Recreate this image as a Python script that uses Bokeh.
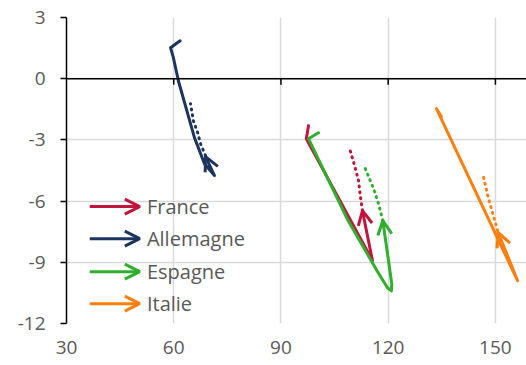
from bokeh.plotting import figure
from bokeh.models import (Range1d, FixedTicker, Arrow, OpenHead, Label, Span, CustomJSTickFormatter)
from bokeh.embed import file_html
from bokeh.resources import INLINE

# ---- data ----
x_ticks = [30, 60, 90, 120, 150]
y_ticks = [-12, -9, -6, -3, 0, 3]

countries = ["France", "Allemagne", "Espagne", "Italie"]
colors = {"France": "#C0163D", "Allemagne": "#1B3560", "Espagne": "#2EAF2E", "Italie": "#FF7F0E"}

france_x = [97.7, 97.1, 115.6, 112.8]
france_y = [-2.30, -2.94, -8.92, -6.47]
france_proj_x = [112.8, 112.2, 111.7, 110.6, 109.4]
france_proj_y = [-6.47, -5.74, -5.00, -4.26, -3.53]

allemagne_x = [61.8, 59.1, 59.9, 61.3, 65.8, 68.6, 71.4, 68.9]
allemagne_y = [1.86, 1.52, 1.03, -0.10, -2.89, -4.17, -4.75, -3.82]
allemagne_proj_x = [68.9, 67.5, 66.7, 65.5, 64.7]
allemagne_proj_y = [-3.77, -3.19, -2.65, -2.06, -1.23]

espagne_x = [100.5, 97.7, 108.6, 117.0, 119.8, 120.9, 121.0, 118.5]
espagne_y = [-2.65, -2.94, -6.90, -9.45, -10.25, -10.40, -10.05, -6.96]
espagne_proj_x = [118.5, 117.3, 115.8, 113.6]
espagne_proj_y = [-6.96, -6.13, -5.34, -4.41]

italie_x = [134.9, 133.5, 156.2, 150.8]
italie_y = [-1.86, -1.47, -9.90, -7.55]
italie_proj_x = [150.6, 148.0, 146.4]
italie_proj_y = [-7.45, -5.83, -4.61]

series = {
    "France": (france_x, france_y, france_proj_x, france_proj_y),
    "Allemagne": (allemagne_x, allemagne_y, allemagne_proj_x, allemagne_proj_y),
    "Espagne": (espagne_x, espagne_y, espagne_proj_x, espagne_proj_y),
    "Italie": (italie_x, italie_y, italie_proj_x, italie_proj_y),
}

FONT = "Open Sans"
TXT = "#595959"
GRID = "#D9D9D9"

p = figure(width=526, height=365, output_backend="svg", toolbar_location=None,
           x_range=Range1d(30, 158.7), y_range=Range1d(-12, 3),
           min_border_left=66, min_border_right=0, min_border_top=17, min_border_bottom=42)
p.outline_line_color = None
p.background_fill_color = "white"

fmt = CustomJSTickFormatter(code="return tick.toString();")

# grids
p.xgrid.ticker = FixedTicker(ticks=x_ticks)
p.ygrid.ticker = FixedTicker(ticks=y_ticks)
p.xgrid.grid_line_color = GRID
p.ygrid.grid_line_color = GRID
p.xgrid.grid_line_width = 1.5
p.ygrid.grid_line_width = 1.5

# y axis
p.yaxis.ticker = FixedTicker(ticks=y_ticks)
p.yaxis.formatter = fmt
p.yaxis.axis_line_color = "black"
p.yaxis.axis_line_width = 1.5
p.yaxis.major_tick_line_color = "black"
p.yaxis.major_tick_line_width = 1.5
p.yaxis.major_tick_out = 6
p.yaxis.major_tick_in = 0
p.yaxis.minor_tick_line_color = None
p.yaxis.major_label_standoff = 15
p.yaxis.major_label_text_font = FONT
p.yaxis.major_label_text_font_size = "19px"
p.yaxis.major_label_text_color = TXT

# x axis (labels at bottom only)
p.xaxis.ticker = FixedTicker(ticks=x_ticks)
p.xaxis.formatter = fmt
p.xaxis.axis_line_color = None
p.xaxis.major_tick_line_color = None
p.xaxis.minor_tick_line_color = None
p.xaxis.major_label_standoff = 11
p.xaxis.major_label_text_font = FONT
p.xaxis.major_label_text_font_size = "19px"
p.xaxis.major_label_text_color = TXT

# zero line with small ticks below it
p.add_layout(Span(location=0, dimension="width", line_color="black", line_width=1.5))
tick_len = 6 / 20.4
p.segment(x0=x_ticks[1:], y0=[0] * (len(x_ticks) - 1), x1=x_ticks[1:],
          y1=[-tick_len] * (len(x_ticks) - 1), line_color="black", line_width=1.5)

# series
for name in countries:
    xs, ys, pxs, pys = series[name]
    c = colors[name]
    p.line(pxs, pys, line_color=c, line_width=3, line_dash="1 5", line_cap="round")
    p.line(xs, ys, line_color=c, line_width=3, line_join="round", line_cap="round")
    p.add_layout(Arrow(x_start=xs[-2], y_start=ys[-2], x_end=xs[-1], y_end=ys[-1],
                       line_alpha=0,
                       end=OpenHead(line_color=c, line_width=3, size=14)))

# legend (arrows + labels)
leg_x0, leg_x1, leg_tx = 36.5, 50.5, 52.5
leg_y = [-6.27, -7.84, -9.46, -11.03]
for name, ly in zip(countries, leg_y):
    c = colors[name]
    p.add_layout(Arrow(x_start=leg_x0, y_start=ly, x_end=leg_x1, y_end=ly,
                       line_color=c, line_width=3,
                       end=OpenHead(line_color=c, line_width=3, size=15)))
    p.add_layout(Label(x=leg_tx, y=ly, text=name, text_font=FONT, text_font_size="20px",
                       text_color=TXT, text_baseline="middle"))

open("out.html", "w").write(file_html(p, INLINE))
